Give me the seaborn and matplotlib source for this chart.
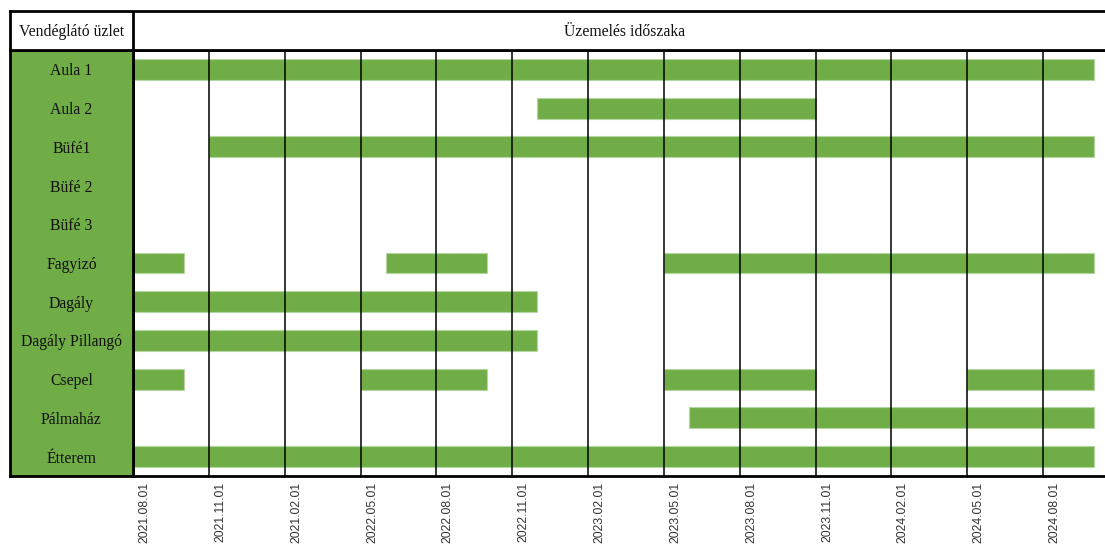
import matplotlib
matplotlib.use("Agg")
import matplotlib.pyplot as plt
import matplotlib.transforms as mtransforms
import seaborn as sns
import pandas as pd

# ---- data ----
shops = ["Aula 1", "Aula 2", "Büfé1", "Büfé 2", "Büfé 3", "Fagyizó", "Dagály",
         "Dagály Pillangó", "Csepel", "Pálmaház", "Étterem"]
# periods in months since 2021.08.01 (start, end)
seg_shop = ["Aula 1", "Aula 2", "Büfé1", "Fagyizó", "Fagyizó", "Fagyizó", "Dagály",
            "Dagály Pillangó", "Csepel", "Csepel", "Csepel", "Csepel", "Pálmaház", "Étterem"]
seg_start = [0, 16, 3, 0, 10, 21, 0, 0, 0, 9, 21, 33, 22, 0]
seg_end = [38, 27, 38, 2, 14, 38, 16, 16, 2, 14, 27, 38, 38, 38]
tick_months = [0, 3, 6, 9, 12, 15, 18, 21, 24, 27, 30, 33, 36]
tick_labels = ["2021.08.01", "2021.11.01", "2021.02.01", "2022.05.01", "2022.08.01",
               "2022.11.01", "2023.02.01", "2023.05.01", "2023.08.01", "2023.11.01",
               "2024.02.01", "2024.05.01", "2024.08.01"]
header_left = "Vendéglátó üzlet"
header_right = "Üzemelés időszaka"

GREEN = "#70AD47"
sns.set_theme(style="white")
plt.rcParams["font.family"] = ["Liberation Serif", "DejaVu Serif"]

W, H = 1105, 546
fig = plt.figure(figsize=(W / 100, H / 100), dpi=100)

def rect(x0, y0, x1, y1):
    return [x0 / W, 1 - y1 / H, (x1 - x0) / W, (y1 - y0) / H]

df = pd.DataFrame({"shop": seg_shop, "start": seg_start, "end": seg_end})
df["row"] = df["shop"].map({s: i for i, s in enumerate(shops)})

# main gantt axes
ax = fig.add_axes(rect(133, 50, 1105, 476))
ax.barh(df["row"], df["end"] - df["start"], left=df["start"], height=0.54,
        color=GREEN, edgecolor="#B5D6A0", linewidth=0.8, zorder=2)
ax.set_ylim(len(shops) - 0.5, -0.5)
ax.set_xlim(0, 38.45)
ax.set_yticks([])
ax.set_xticks(tick_months)
ax.set_xticklabels(tick_labels, rotation=90, va="top", ha="center",
                   family=["Liberation Sans"], fontsize=8.8,
                   color="#333333")
ax.tick_params(axis="x", length=0, pad=4)
offset = mtransforms.ScaledTranslation(11.5 / 100, 0, fig.dpi_scale_trans)
for lbl in ax.get_xticklabels():
    lbl.set_transform(lbl.get_transform() + offset)
for m in tick_months[1:]:
    ax.axvline(m, color="black", linewidth=1.1, zorder=3)
for side in ["top", "bottom", "left"]:
    ax.spines[side].set_color("black")
    ax.spines[side].set_linewidth(2)
ax.spines["right"].set_visible(False)
ax.set_xlabel("")
ax.set_ylabel("")

# left label column
axl = fig.add_axes(rect(10, 50, 133, 476))
axl.set_facecolor(GREEN)
axl.set_ylim(len(shops) - 0.5, -0.5)
axl.set_xlim(0, 1)
axl.set_xticks([])
axl.set_yticks([])
for i, s in enumerate(shops):
    axl.text(0.5, i, s, ha="center", va="center_baseline", fontsize=11.3, color="#111111")
for side in axl.spines:
    axl.spines[side].set_color("black")
    axl.spines[side].set_linewidth(2)

# header row
axh = fig.add_axes(rect(10, 11, 1105, 50))
axh.set_xlim(10, 1105)
axh.set_ylim(0, 1)
axh.set_xticks([])
axh.set_yticks([])
axh.axvline(133, color="black", linewidth=2)
axh.text(71.5, 0.5, header_left, ha="center", va="center_baseline", fontsize=11.3, color="#111111")
axh.text(625, 0.5, header_right, ha="center", va="center_baseline", fontsize=11.3, color="#111111")
for side in ["top", "bottom", "left"]:
    axh.spines[side].set_color("black")
    axh.spines[side].set_linewidth(2)
axh.spines["right"].set_visible(False)

fig.savefig("out.png", dpi=100)
